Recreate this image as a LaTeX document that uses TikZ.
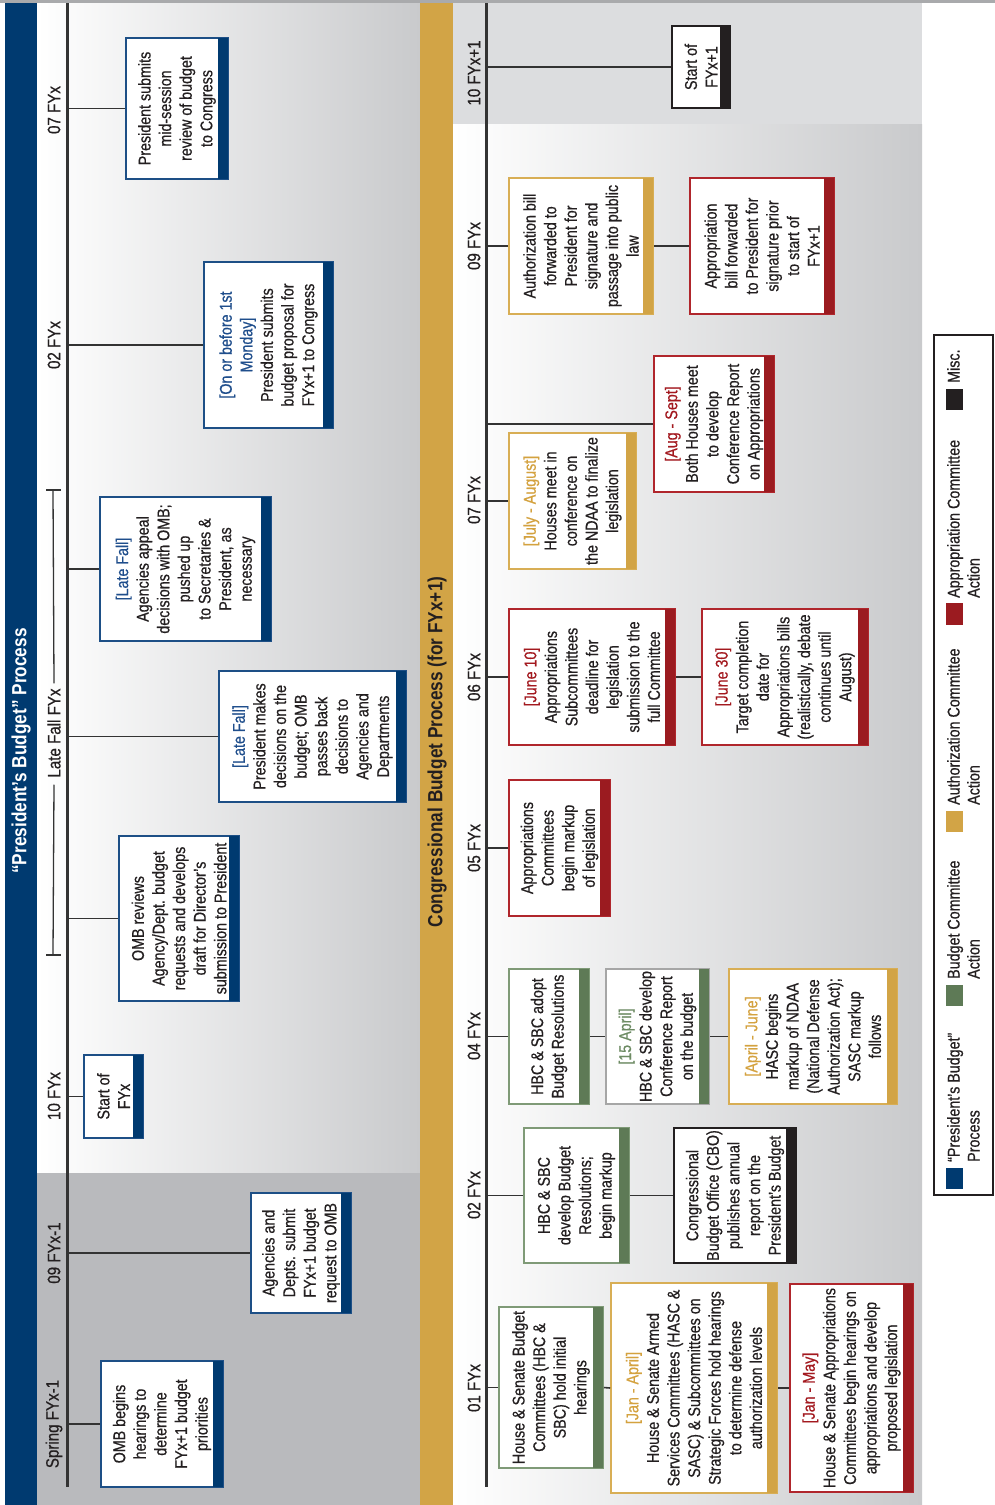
\documentclass[tikz,border=0pt]{standalone}
\usepackage{fontspec}
\setmainfont{Liberation Sans}[FakeStretch=0.84]
\newfontfamily\bodyfont{Liberation Sans}[FakeStretch=0.84,FakeBold=0.6]
\usetikzlibrary{calc}
\definecolor{pbblue}{HTML}{003A70}
\definecolor{pbblueL}{HTML}{1D4F86}
\definecolor{bgold}{HTML}{D2A446}
\definecolor{bgoldL}{HTML}{D8AE55}
\definecolor{bgreen}{HTML}{5E7A56}
\definecolor{bgreenL}{HTML}{7F9A77}
\definecolor{bred}{HTML}{9B1B20}
\definecolor{bredL}{HTML}{B0262C}
\definecolor{bblack}{HTML}{231F20}
\definecolor{txt}{HTML}{231F20}
\definecolor{pgray}{HTML}{C9CACC}
\definecolor{lowgray}{HTML}{B9BABD}
\definecolor{topgray}{HTML}{DCDDDF}
\definecolor{bordgray}{HTML}{A6A6A6}
\definecolor{stripe}{HTML}{A9AAAC}
\definecolor{connc}{HTML}{333333}
\definecolor{dategold}{HTML}{D4A23F}
\definecolor{dategreen}{HTML}{6D8B63}
\definecolor{dateblue}{HTML}{1F4E8C}
\definecolor{datered}{HTML}{A3191F}
\newcommand{\boxfont}{\bodyfont\fontsize{17}{20.6}\selectfont}
\newcommand{\lblfont}{\bodyfont\fontsize{18}{20}\selectfont}
\newcommand{\legfont}{\bodyfont\fontsize{17}{20}\selectfont}
\newcommand{\titlefont}{\fontsize{20.5}{24}\selectfont\bfseries}
\tikzset{
  ebox/.style={rotate=90, fill=white, line width=1.6pt, inner sep=0pt, align=center, text=txt, font=\boxfont},
  conn/.style={draw=connc, line width=1.6pt},
  tline/.style={draw=connc, line width=3pt},
  tlabel/.style={rotate=90, text=txt, font=\lblfont, inner sep=1pt},
  legtext/.style={rotate=90, anchor=north west, align=left, inner sep=0pt, text=txt, font=\legfont},
}
% name, border colour, bar colour, x1, y1, x2, y2, text
\newcommand{\evbox}[8]{%
  \node[ebox, draw=#2, minimum width={(#7-#5)*1pt}, minimum height={(#6-#4)*1pt}] (#1) at ({(#4+#6)/2},{(#5+#7)/2}) {#8};
  \fill[#3] ({#6-10},#5) rectangle (#6,#7);}
\begin{document}
\begin{tikzpicture}[x=1pt,y=-1pt]
\useasboundingbox (0,0) rectangle (995,1505);
\fill[white] (0,0) rectangle (995,1505);
% panels
\shade[left color=white, right color=pgray] (37,3) rectangle (420,1505);
\fill[lowgray] (37,1173) rectangle (420,1505);
\fill[pbblue] (5,3) rectangle (37,1505);
\fill[bgold] (420,3) rectangle (453,1505);
\shade[left color=white, right color=pgray] (453,124) rectangle (922,1505);
\fill[topgray] (453,3) rectangle (922,124);
\fill[stripe] (0,0) rectangle (995,3);
% titles
\node[rotate=90, text=white, font=\titlefont] (T1) at (21,751) {“President’s Budget” Process};
\node[rotate=90, text=txt, font=\titlefont] (T2) at (437,752) {Congressional Budget Process (for FYx+1)};
% timelines
\coordinate (LT) at (67,0);
\coordinate (RT) at (486,0);
\draw[tline] (67,3) -- (67,1487);
\draw[tline] (486,3) -- (486,1487);
% left labels
\node[tlabel] (lA) at (54,1424) {Spring FYx-1};
\node[tlabel] (lB) at (54,1253) {09 FYx-1};
\node[tlabel] (lC) at (54,1096) {10 FYx};
\node[tlabel] (lD) at (54,733) {Late Fall FYx};
\node[tlabel] (lE) at (54,345) {02 FYx};
\node[tlabel] (lF) at (54,110) {07 FYx};
\coordinate (BT) at (53,490);
\coordinate (BB) at (53,955);
\draw[conn, line width=1.3pt] (BT) -- ($(lD.east)+(0,-4)$);
\draw[conn, line width=1.3pt] ($(lD.west)+(0,6)$) -- (BB);
\draw[conn, line width=1.3pt] ($(BT)+(-7,0)$) -- ($(BT)+(8,0)$);
\draw[conn, line width=1.3pt] ($(BB)+(-7,0)$) -- ($(BB)+(8,0)$);
% right labels
\node[tlabel] (rA) at (474,1388) {01 FYx};
\node[tlabel] (rB) at (474,1195) {02 FYx};
\node[tlabel] (rC) at (474,1036) {04 FYx};
\node[tlabel] (rD) at (474,848) {05 FYx};
\node[tlabel] (rE) at (474,677) {06 FYx};
\node[tlabel] (rF) at (474,500) {07 FYx};
\node[tlabel] (rG) at (474,246) {09 FYx};
\node[tlabel] (rH) at (474,73) {10 FYx+1};
% left boxes
\evbox{L1}{pbblueL}{pbblue}{101}{1361}{223}{1487}{OMB begins\\hearings to\\determine\\FYx+1 budget\\priorities}
\evbox{L2}{pbblueL}{pbblue}{251}{1193}{351}{1313}{Agencies and\\Depts. submit\\FYx+1 budget\\request to OMB}
\evbox{L3}{pbblueL}{pbblue}{84}{1055}{143}{1138}{Start of\\FYx}
\evbox{L4}{pbblueL}{pbblue}{119}{836}{239}{1001}{OMB reviews\\Agency/Dept. budget\\requests and develops\\draft for Director’s\\submission to President}
\evbox{L5}{pbblueL}{pbblue}{219}{671}{406}{802}{\textcolor{dateblue}{[Late Fall]}\\President makes\\decisions on the\\budget; OMB\\passes back\\decisions to\\Agencies and\\Departments}
\evbox{L6}{pbblueL}{pbblue}{100}{497}{271}{641}{\textcolor{dateblue}{[Late Fall]}\\Agencies appeal\\decisions with OMB;\\pushed up\\to Secretaries \&\\President, as\\necessary}
\evbox{L7}{pbblueL}{pbblue}{204}{262}{333}{428}{\textcolor{dateblue}{[On or before 1st}\\\textcolor{dateblue}{Monday]}\\President submits\\budget proposal for\\FYx+1 to Congress}
\evbox{L8}{pbblueL}{pbblue}{126}{38}{228}{179}{President submits\\mid-session\\review of budget\\to Congress}
\foreach \n in {L1,L2,L3,L4,L5,L6,L7,L8} \draw[conn] (\n.north -| LT) -- (\n.north);
% right boxes
\evbox{Ra}{bgreenL}{bgreen}{499}{1307}{603}{1468}{House \& Senate Budget\\Committees (HBC \&\\SBC) hold initial\\hearings}
\evbox{Rb}{bgoldL}{bgold}{611}{1283}{777}{1493}{\textcolor{dategold}{[Jan - April]}\\House \& Senate Armed\\Services Committees (HASC \&\\SASC) \& Subcommittees on\\Strategic Forces hold hearings\\to determine defense\\authorization levels}
\evbox{Rc}{bredL}{bred}{790}{1284}{913}{1492}{\textcolor{datered}{[Jan - May]}\\House \& Senate Appropriations\\Committees begin hearings on\\appropriations and develop\\proposed legislation}
\evbox{Rd}{bgreenL}{bgreen}{524}{1128}{629}{1263}{HBC \& SBC\\develop Budget\\Resolutions;\\begin markup}
\evbox{Re}{bblack}{bblack}{674}{1128}{796}{1263}{Congressional\\Budget Office (CBO)\\publishes annual\\report on the\\President’s Budget}
\evbox{Rf}{bgreenL}{bgreen}{509}{969}{589}{1104}{HBC \& SBC adopt\\Budget Resolutions}
\evbox{Rg}{bordgray}{bgreen}{606}{969}{709}{1104}{\textcolor{dategreen}{[15 April]}\\HBC \& SBC develop\\Conference Report\\on the budget}
\evbox{Rh}{bgoldL}{bgold}{729}{969}{897}{1104}{\textcolor{dategold}{[April - June]}\\HASC begins\\markup of NDAA\\(National Defense\\Authorization Act);\\SASC markup\\follows}
\evbox{Ri}{bredL}{bred}{509}{780}{610}{916}{Appropriations\\Committees\\begin markup\\of legislation}
\evbox{Rj}{bredL}{bred}{509}{609}{675}{745}{\textcolor{datered}{[June 10]}\\Appropriations\\Subcommittees\\deadline for\\legislation\\submission to the\\full Committee}
\evbox{Rk}{bredL}{bred}{702}{609}{868}{745}{\textcolor{datered}{[June 30]}\\Target completion\\date for\\Appropriations bills\\(realistically, debate\\continues until\\August)}
\evbox{Rl}{bgoldL}{bgold}{509}{433}{636}{569}{\textcolor{dategold}{[July - August]}\\Houses meet in\\conference on\\the NDAA to finalize\\legislation}
\evbox{Rm}{bredL}{bred}{654}{356}{774}{492}{\textcolor{datered}{[Aug - Sept]}\\Both Houses meet\\to develop\\Conference Report\\on Appropriations}
\evbox{Rn}{bgoldL}{bgold}{509}{178}{653}{314}{Authorization bill\\forwarded to\\President for\\signature and\\passage into public\\law}
\evbox{Ro}{bredL}{bred}{690}{178}{834}{314}{Appropriation\\bill forwarded\\to President for\\signature prior\\to start of\\FYx+1}
\evbox{Rp}{bblack}{bblack}{672}{26}{730}{108}{Start of\\FYx+1}
\foreach \n in {Ra,Rd,Rf,Ri,Rj,Rl,Rm,Rn,Rp} \draw[conn] (\n.north -| RT) -- (\n.north);
\draw[conn] (Ra.south) -- (Rb.north);
\draw[conn] (Rb.south) -- (Rc.north);
\draw[conn] (Rd.south) -- (Re.north);
\draw[conn] (Rf.south) -- (Rg.north);
\draw[conn] (Rg.south) -- (Rh.north);
\draw[conn] (Rj.south) -- (Rk.north);
\draw[conn] (Rn.south) -- (Ro.north);
% legend
\draw[bblack, line width=2.2pt, fill=white] (934,335) rectangle (993,1195);
\fill[pbblue] (946,1168) rectangle (963,1189);
\node[legtext] (g1) at (947,1162) {“President’s Budget”\\Process};
\fill[bgreen] (946,985) rectangle (963,1006);
\node[legtext] (g2) at (947,979) {Budget Committee\\Action};
\fill[bgold] (946,811) rectangle (963,832);
\node[legtext] (g3) at (947,805) {Authorization Committee\\Action};
\fill[bred] (946,603) rectangle (963,625);
\node[legtext] (g4) at (947,598) {Appropriation Committee\\Action};
\fill[bblack] (946,389) rectangle (963,410);
\node[legtext] (g5) at (947,383) {Misc.};
\end{tikzpicture}
\end{document}
